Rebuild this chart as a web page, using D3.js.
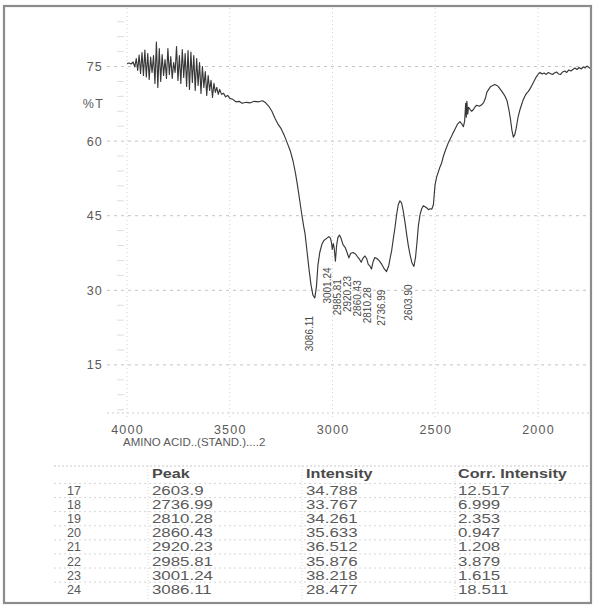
<!DOCTYPE html>
<html>
<head>
<meta charset="utf-8">
<script src="https://cdn.jsdelivr.net/npm/d3@7"></script>
<style>
  body { margin: 0; background: #fff; }
  svg text { font-family: "Liberation Sans", Arial, sans-serif; }
</style>
</head>
<body>
<svg id="chart" width="595" height="608"></svg>
<script>
// IR transmittance spectrum (wavenumber in cm-1, %T)
const wavenumber = [
  4000, 3990, 3980, 3970, 3962, 3955, 3948, 3941, 3934, 3927, 3920, 3913, 3906, 3899, 3892, 3885,
  3878, 3871, 3864, 3857, 3850, 3843, 3836, 3829, 3822, 3815, 3808, 3801, 3794, 3787, 3780, 3773,
  3766, 3759, 3752, 3745, 3738, 3731, 3724, 3717, 3710, 3703, 3696, 3689, 3682, 3675, 3668, 3661,
  3654, 3647, 3640, 3633, 3626, 3619, 3612, 3605, 3598, 3591, 3584, 3577, 3570, 3563, 3556, 3549,
  3540, 3530, 3520, 3510, 3500, 3485, 3470, 3455, 3440, 3420, 3400, 3380, 3360, 3340, 3325, 3310,
  3295, 3280, 3265, 3250, 3235, 3220, 3205, 3192, 3180, 3170, 3160, 3150, 3140, 3134, 3125, 3115,
  3105, 3095, 3086.11, 3078, 3071, 3062, 3052, 3042, 3030, 3018, 3010, 3005, 3001.24, 2996, 2992, 2985.81,
  2980, 2974, 2966, 2958, 2949, 2938, 2929, 2920.23, 2912, 2900, 2888, 2876, 2868, 2860.43, 2852, 2842,
  2834, 2826, 2818, 2810.28, 2802, 2794, 2784, 2772, 2760, 2748, 2736.99, 2726, 2718, 2712, 2704, 2696,
  2688, 2680, 2672, 2664, 2656, 2647, 2639, 2631, 2622, 2614, 2603.9, 2596, 2589, 2582, 2574, 2566,
  2558, 2550, 2542, 2533, 2525, 2517, 2509, 2501, 2493, 2485, 2477, 2469, 2460, 2450, 2437, 2425,
  2414, 2404, 2392, 2380, 2370, 2363, 2357, 2352, 2349, 2346, 2342, 2338, 2331, 2323, 2315, 2306,
  2298, 2286, 2274, 2264, 2256, 2249, 2240, 2230, 2220, 2210, 2200, 2192, 2185, 2176, 2166, 2158,
  2150, 2142, 2134, 2127, 2120, 2113, 2106, 2098, 2090, 2081, 2073, 2064, 2056, 2047, 2039, 2030,
  2020, 2010, 2000, 1990, 1980, 1970, 1960, 1950, 1940, 1930, 1920, 1910, 1900, 1890, 1880, 1870,
  1860, 1850, 1840, 1830, 1820, 1810, 1800, 1790, 1780, 1770, 1762, 1752, 1742, 1732, 1722
];
const transmittance = [
  75.6, 75.7, 75.5, 75.9, 74.9, 76.6, 74.2, 77.3, 73.6, 77.8, 73.2, 78.3, 72.9, 77.6, 72.4, 76.9,
  73.8, 77.2, 71.6, 79.9, 70.8, 78.6, 72.0, 77.4, 73.2, 76.4, 72.6, 78.6, 73.4, 77.0, 72.6, 75.8,
  73.8, 79.0, 72.2, 77.2, 71.6, 78.4, 72.8, 77.6, 71.0, 78.2, 70.4, 77.9, 71.8, 77.2, 70.2, 76.6,
  71.2, 75.8, 69.6, 75.0, 70.8, 74.0, 69.2, 73.2, 70.2, 72.2, 68.8, 71.6, 69.8, 70.8, 69.4, 70.4,
  69.4, 69.6, 68.9, 69.2, 68.6, 68.4, 67.9, 68.0, 67.6, 67.8, 67.7, 68.0, 67.9, 68.1, 67.7, 67.0,
  66.0, 64.6, 63.4, 62.5, 61.2, 59.6, 58.0, 56.0, 53.5, 51.0, 48.2, 45.4, 42.8, 41.5, 38.2, 34.5,
  31.2, 29.0, 28.477, 30.8, 35.0, 37.6, 39.2, 40.0, 40.4, 40.8, 40.5, 39.6, 38.218, 39.4, 38.6, 35.876,
  39.0, 40.6, 41.1, 40.4, 39.2, 38.6, 37.6, 36.512, 37.4, 37.6, 37.3, 36.6, 36.2, 35.633, 36.4, 36.9,
  36.4, 35.2, 34.9, 34.261, 35.8, 36.6, 36.4, 35.9, 35.2, 34.3, 33.767, 35.0, 36.8, 38.0, 40.4, 42.6,
  45.2, 47.2, 48.0, 47.6, 46.0, 43.6, 41.2, 39.0, 37.0, 35.6, 34.788, 36.6, 39.6, 43.0, 45.2, 46.4,
  47.0, 46.8, 46.6, 46.2, 46.4, 46.3, 47.2, 51.2, 52.8, 53.8, 54.8, 55.6, 57.0, 58.2, 59.6, 60.6,
  61.6, 62.4, 63.4, 63.9, 63.4, 62.9, 64.0, 67.6, 64.8, 68.0, 65.4, 66.8, 66.4, 66.0, 66.3, 66.9,
  67.2, 67.0, 67.3, 67.8, 68.6, 69.8, 70.4, 71.0, 71.2, 71.4, 71.2, 70.9, 70.5, 70.0, 69.4, 68.8,
  68.0, 66.4, 64.4, 62.2, 60.8, 61.3, 62.6, 64.6, 66.0, 67.2, 68.2, 69.0, 69.6, 70.0, 70.5, 71.2,
  72.0, 72.8, 73.4, 73.8, 73.5, 73.7, 73.4, 73.8, 73.6, 73.4, 73.7, 73.9, 73.5, 73.4, 73.9, 74.1,
  73.8, 74.3, 74.1, 74.4, 74.7, 74.4, 74.8, 74.5, 74.9, 74.7, 75.1, 74.8, 74.5, 74.4, 74.0
];

// Axis ticks
const xTicks = [4000, 3500, 3000, 2500, 2000];
const yTicks = [75, 60, 45, 30, 15];
const yAxisTitle = "%T";
const sampleName = "AMINO ACID..(STAND.)....2";

// Peak table
const peakNo = [17, 18, 19, 20, 21, 22, 23, 24];
const peakPos = [2603.9, 2736.99, 2810.28, 2860.43, 2920.23, 2985.81, 3001.24, 3086.11];
const peakIntensity = ["34.788", "33.767", "34.261", "35.633", "36.512", "35.876", "38.218", "28.477"];
const corrIntensity = ["12.517", "6.999", "2.353", "0.947", "1.208", "3.879", "1.615", "18.511"];
const tableHeaders = ["Peak", "Intensity", "Corr. Intensity"];

const svg = d3.select("#chart");
const W = 595, H = 608;

// Layout
const plotLeft = 107, plotRight = 590, plotTop = 8, plotBottom = 413;
const x = d3.scaleLinear().domain([4000, 2000]).range([127, 538]);
const y = d3.scaleLinear().domain([15, 75]).range([364.9, 66.5]);

const ink = "#383838", grid = "#c4c4c4", label = "#5a5a5a";

svg.append("rect").attr("width", W).attr("height", H).attr("fill", "#fff");

// Grid
const g = svg.append("g");
g.selectAll("line.hgrid").data(yTicks).join("line")
  .attr("x1", plotLeft).attr("x2", plotRight)
  .attr("y1", d => y(d)).attr("y2", d => y(d))
  .attr("stroke", grid).attr("stroke-width", 1).attr("stroke-dasharray", "3,4");
g.selectAll("line.vgrid").data(xTicks).join("line")
  .attr("x1", d => x(d)).attr("x2", d => x(d))
  .attr("y1", plotTop).attr("y2", plotBottom + 4)
  .attr("stroke", "#d2d2d2").attr("stroke-width", 1).attr("stroke-dasharray", "1,3");
g.append("line").attr("x1", plotLeft).attr("x2", plotRight)
  .attr("y1", plotBottom).attr("y2", plotBottom)
  .attr("stroke", "#cfcfcf").attr("stroke-dasharray", "2,3");

// Minor ticks on the %T axis
const minor = d3.range(6, 87, 3).filter(v => v % 15 !== 0);
g.selectAll("line.minor").data(minor).join("line")
  .attr("x1", 117).attr("x2", 124)
  .attr("y1", d => y(d)).attr("y2", d => y(d))
  .attr("stroke", "#dedede").attr("stroke-width", 1);

// Y tick labels
const yAxis = d3.axisLeft(y).tickValues(yTicks).tickSize(0).tickPadding(0);
const ya = svg.append("g").attr("transform", "translate(103,0)").call(yAxis);
ya.select(".domain").remove();
ya.selectAll("text").attr("font-size", 12.5).attr("fill", label)
  .attr("font-family", "Liberation Sans, Arial, sans-serif")
  .attr("letter-spacing", 1.2);
svg.append("text").attr("x", 104).attr("y", (y(75) + y(60)) / 2 + 4)
  .attr("text-anchor", "end").attr("font-size", 12.5).attr("fill", label)
  .attr("letter-spacing", 1.2).text(yAxisTitle);

// X tick labels
const xAxis = d3.axisBottom(x).tickValues(xTicks).tickSize(0).tickPadding(0).tickFormat(d3.format("d"));
const xa = svg.append("g").attr("transform", "translate(0,425)").call(xAxis);
xa.select(".domain").remove();
xa.selectAll("text").attr("font-size", 12.5).attr("fill", label)
  .attr("font-family", "Liberation Sans, Arial, sans-serif")
  .attr("letter-spacing", 1.2);

svg.append("text").attr("x", 123).attr("y", 446)
  .attr("font-size", 11.5).attr("fill", label).text(sampleName);

// Spectrum
svg.append("clipPath").attr("id", "plotclip").append("rect")
  .attr("x", plotLeft).attr("y", plotTop).attr("width", plotRight - plotLeft).attr("height", plotBottom - plotTop);
const line = d3.line().x((d, i) => x(wavenumber[i])).y((d, i) => y(transmittance[i]));
svg.append("path").datum(wavenumber)
  .attr("clip-path", "url(#plotclip)")
  .attr("d", line).attr("fill", "none")
  .attr("stroke", ink).attr("stroke-width", 1.15).attr("stroke-linejoin", "round");

// Peak labels (vertical), spread so they do not overlap
const peaks = peakPos.map((p, i) => ({ p, t: +peakIntensity[i] }))
  .sort((a, b) => b.p - a.p);
let lastX = -Infinity;
peaks.forEach(d => {
  let px = x(d.p) - 5;
  if (px < lastX + 10) px = lastX + 10;
  d.lx = px; lastX = px;
  d.ly = y(d.t) + 18;
});
svg.selectAll("text.peak").data(peaks).join("text")
  .attr("transform", d => `translate(${d.lx},${d.ly}) rotate(-90)`)
  .attr("text-anchor", "end").attr("dy", "0.35em")
  .attr("font-family", "Liberation Sans Narrow, Arial Narrow, sans-serif")
  .attr("font-size", 10).attr("fill", "#4a4a4a")
  .text(d => d3.format(".2f")(d.p));

// Table
const tTop = 466, tLeft = 54, rowH = 14.1, headY = 473, row0 = 490.5;
const colX = [67, 152, 306, 458];
const divX = [148, 302, 455];
const tg = svg.append("g");
tg.append("line").attr("x1", tLeft).attr("x2", plotRight).attr("y1", tTop).attr("y2", tTop)
  .attr("stroke", "#c8c8c8").attr("stroke-dasharray", "2,2");
tg.selectAll("line.rowsep").data(d3.range(peakNo.length)).join("line")
  .attr("x1", tLeft).attr("x2", plotRight)
  .attr("y1", i => row0 - rowH / 2).attr("y2", i => row0 - rowH / 2)
  .attr("transform", i => `translate(0,${i * rowH})`)
  .attr("stroke", "#d6d6d6").attr("stroke-dasharray", "2,3");
tg.selectAll("line.coldiv").data(divX).join("line")
  .attr("x1", d => d).attr("x2", d => d).attr("y1", tTop).attr("y2", 600)
  .attr("stroke", "#d6d6d6").attr("stroke-dasharray", "1,2");

const stretch = 1.35;
tg.selectAll("text.head").data(tableHeaders).join("text")
  .attr("transform", (d, i) => `translate(${colX[i + 1]},${headY + 4.5}) scale(${stretch},1)`)
  .attr("font-size", 12).attr("font-weight", "bold").attr("fill", "#4a4a4a").text(d => d);

peakNo.forEach((n, i) => {
  const yy = row0 + i * rowH + 4.5;
  tg.append("text").attr("x", colX[0]).attr("y", yy)
    .attr("font-size", 12.5).attr("fill", label).text(n);
  const vals = [String(peakPos[i]), peakIntensity[i], corrIntensity[i]];
  vals.forEach((v, j) => {
    tg.append("text")
      .attr("transform", `translate(${colX[j + 1]},${yy}) scale(${stretch},1)`)
      .attr("font-size", 12.5).attr("fill", label).text(v);
  });
});

// Outer frame
svg.append("rect").attr("x", 4).attr("y", 6).attr("width", 587).attr("height", 597)
  .attr("fill", "none").attr("stroke", "#8c8c8c").attr("stroke-width", 2.2);
</script>
</body>
</html>
